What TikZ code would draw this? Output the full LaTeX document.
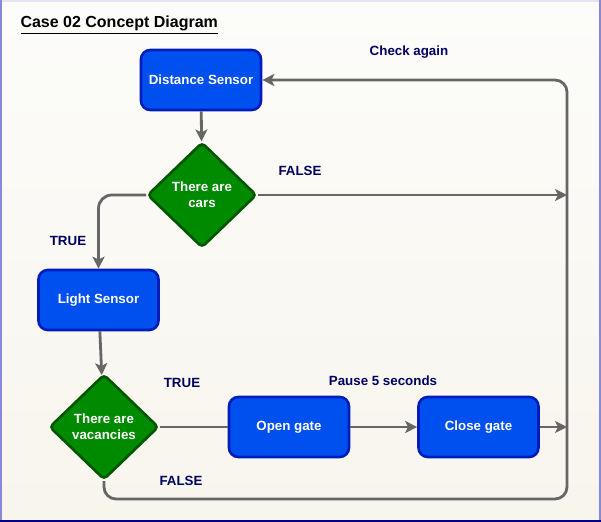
\documentclass[tikz,border=0pt]{standalone}
\usepackage{fontspec}
\setmainfont{Liberation Sans}
\usepackage{tikz}
\usetikzlibrary{shapes.geometric,arrows.meta}
\definecolor{boxblue}{RGB}{0,80,239}
\definecolor{boxline}{RGB}{0,29,188}
\definecolor{dgreen}{RGB}{0,138,0}
\definecolor{dgreenline}{RGB}{0,87,0}
\definecolor{flowgray}{RGB}{102,102,102}
\definecolor{labelnavy}{RGB}{0,0,96}
\definecolor{frameside}{RGB}{136,136,216}
\definecolor{framebot}{RGB}{0,0,140}
\definecolor{frametop}{RGB}{228,228,244}
\definecolor{bgtop}{RGB}{252,252,250}
\definecolor{bgbot}{RGB}{248,245,237}
\tikzset{every picture/.style={line width=0.75pt}}
\tikzset{
  procbox/.style={draw=boxline, fill=boxblue, line width=2pt, rounded corners=7pt,
    minimum width=90pt, minimum height=45pt, text=white, font=\bfseries\fontsize{10}{12}\selectfont},
  decision/.style={diamond, draw=dgreenline, fill=dgreen, line width=2pt, rounded corners=3pt,
    minimum width=82pt, minimum height=79pt, inner sep=0pt, align=center,
    text=white, font=\bfseries\fontsize{10}{12}\selectfont},
  flow/.style={draw=flowgray, line width=2.1pt, -{Stealth[length=9pt,width=9pt,inset=2.2pt]}},
  plainflow/.style={draw=flowgray, line width=2.1pt},
  branchlabel/.style={text=labelnavy, font=\bfseries\fontsize{10}{12}\selectfont, inner sep=0.75pt}
}

\begin{document}
\begin{tikzpicture}[x=0.75pt,y=0.75pt,yscale=-1,xscale=1]
% background and frame
\shade [top color=bgtop, bottom color=bgbot] (0,0) rectangle (601,522);
\useasboundingbox (0,0) rectangle (601,522);
\draw [frametop, line width=1.2pt] (0,0.8) -- (601,0.8);
\draw [frameside, line width=1.6pt] (1,0) -- (1,522);
\draw [frameside, line width=1.6pt] (600,0) -- (600,522);
\draw [framebot, line width=1.2pt] (0,521.2) -- (601,521.2);

% Title
\node (title) [anchor=west, inner sep=0pt, font=\bfseries\fontsize{12}{14}\selectfont] at (20,25) {\underline{Case 02 Concept Diagram}};

% Boxes
\node (dist) [procbox] at (201,80) {Distance Sensor};
\node (cars) [decision] at (202,195) {There are\\cars};
\node (light) [procbox] at (98.5,300) {Light Sensor};
\node (vac) [decision] at (104,427) {There are\\vacancies};
\node (open) [procbox] at (289,427) {Open gate};
\node (close) [procbox] at (478.5,427) {Close gate};

% free ends on the right
\coordinate (rightA) at (567,195);
\coordinate (rightB) at (567,427);
\coordinate (loopcorner) at (567,499);

% Connectors
\draw [flow] (dist) -- (cars);
\draw [flow] (cars.east) -- (rightA);
\draw [flow, rounded corners=10pt] (cars.west) -| (light.north);
\draw [flow] (light) -- (vac);
\draw [plainflow] (vac.east) -- (open.west);
\draw [flow] (open) -- (close);
\draw [flow] (close.east) -- (rightB);
\draw [flow, rounded corners=9pt] (vac.south) |- (loopcorner) |- (dist.east);

% Text Node
\node (falseA) [branchlabel] at (300,171) {FALSE};
\node (trueA) [branchlabel] at (68,241) {TRUE};
\node (trueB) [branchlabel] at (182,383) {TRUE};
\node (pause) [branchlabel] at (383,381) {Pause 5 seconds};
\node (falseB) [branchlabel] at (181,481) {FALSE};
\node (again) [branchlabel] at (409,52) {Check again};

\end{tikzpicture}
\end{document}
